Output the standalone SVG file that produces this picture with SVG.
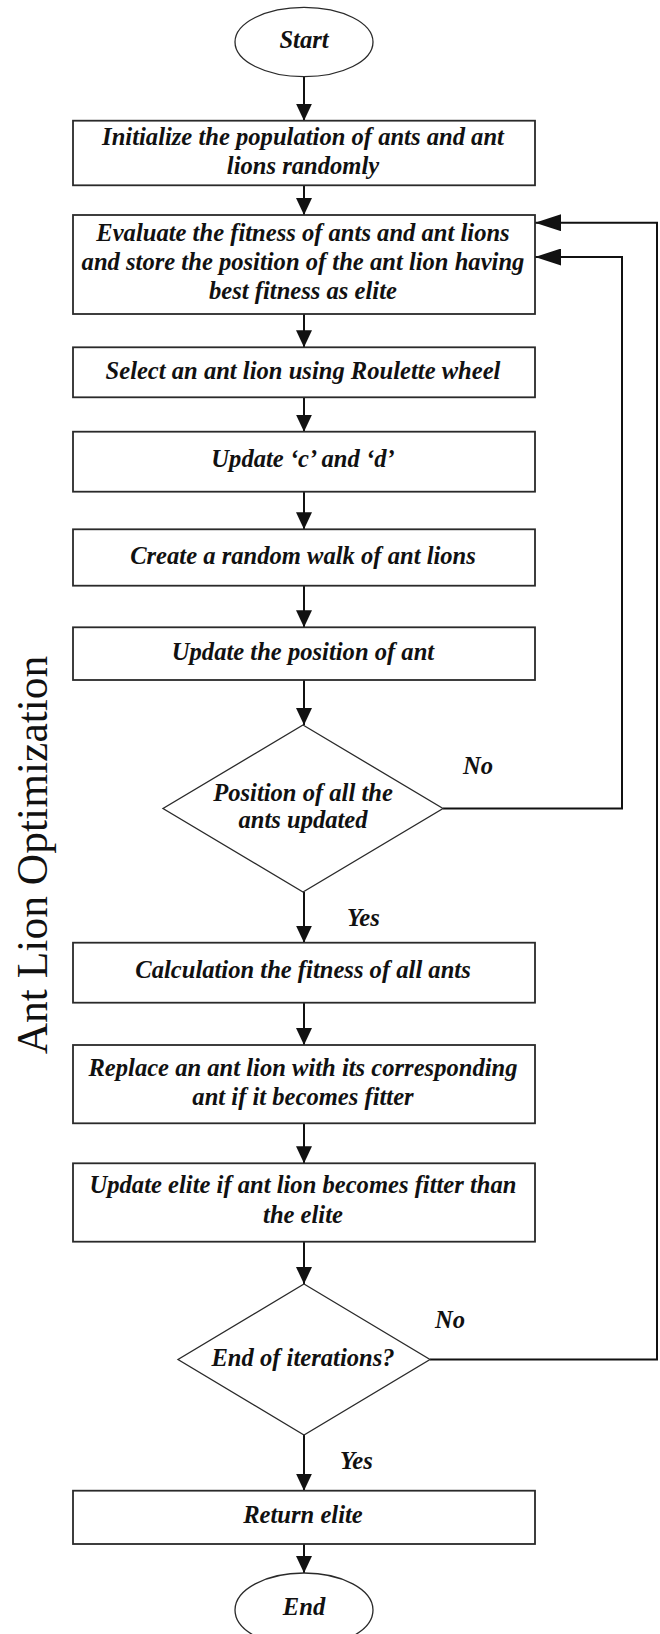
<svg xmlns="http://www.w3.org/2000/svg" width="660" height="1634" viewBox="0 0 660 1634">
<defs>
<style>
.box{fill:#fff;stroke:#2a2a2a;stroke-width:1.8}
.dia{fill:#fff;stroke:#2a2a2a;stroke-width:1.3}
.ell{fill:#fff;stroke:#2a2a2a;stroke-width:1.3}
.t{font-family:"Liberation Serif","Times New Roman",serif;font-weight:bold;font-style:italic;font-size:24.6px;fill:#111;text-anchor:middle}
.lbl{font-family:"Liberation Serif","Times New Roman",serif;font-weight:bold;font-style:italic;font-size:24.6px;fill:#111}
.side{font-family:"Liberation Serif","Times New Roman",serif;font-size:43.5px;fill:#111;text-anchor:middle}
.c{fill:none;stroke:#111;stroke-width:2}
</style>
<marker id="av" viewBox="0 0 17 16" refX="17" refY="8" markerWidth="17" markerHeight="16" orient="auto" markerUnits="userSpaceOnUse"><path d="M0,0 L17,8 L0,16 z" fill="#111"/></marker>
<marker id="ah" viewBox="0 0 26 17" refX="26" refY="8.5" markerWidth="26" markerHeight="17" orient="auto" markerUnits="userSpaceOnUse"><path d="M0,0 L26,8.5 L0,17 z" fill="#111"/></marker>
</defs>
<rect width="660" height="1634" fill="#fff"/>

<text class="side" transform="translate(47,855) rotate(-90)">Ant Lion Optimization</text>

<g id="connectors">
<line class="c" x1="304" y1="76.7" x2="304" y2="120.7" marker-end="url(#av)"/>
<line class="c" x1="304" y1="185.3" x2="304" y2="215" marker-end="url(#av)"/>
<line class="c" x1="304" y1="314" x2="304" y2="347.3" marker-end="url(#av)"/>
<line class="c" x1="304" y1="397.3" x2="304" y2="431.7" marker-end="url(#av)"/>
<line class="c" x1="304" y1="491.7" x2="304" y2="529.3" marker-end="url(#av)"/>
<line class="c" x1="304" y1="585.7" x2="304" y2="627.3" marker-end="url(#av)"/>
<line class="c" x1="304" y1="680" x2="304" y2="725" marker-end="url(#av)"/>
<line class="c" x1="304" y1="892" x2="304" y2="942.7" marker-end="url(#av)"/>
<line class="c" x1="304" y1="1002.7" x2="304" y2="1045" marker-end="url(#av)"/>
<line class="c" x1="304" y1="1123.3" x2="304" y2="1163.3" marker-end="url(#av)"/>
<line class="c" x1="304" y1="1241.7" x2="304" y2="1284" marker-end="url(#av)"/>
<line class="c" x1="304" y1="1435" x2="304" y2="1490.7" marker-end="url(#av)"/>
<line class="c" x1="304" y1="1544" x2="304" y2="1573" marker-end="url(#av)"/>
<polyline class="c" points="443,808.5 622,808.5 622,257 535,257" marker-end="url(#ah)"/>
<polyline class="c" points="430,1359.5 657,1359.5 657,222.7 535,222.7" marker-end="url(#ah)"/>
<text class="lbl" x="463" y="774">No</text>
<text class="lbl" x="347" y="926">Yes</text>
<text class="lbl" x="435" y="1328">No</text>
<text class="lbl" x="340" y="1469">Yes</text>
</g>

<g id="start">
<ellipse class="ell" cx="304" cy="42" rx="69" ry="34.7"/>
<text class="t" x="304" y="48">Start</text>
</g>

<g id="init">
<rect class="box" x="73" y="120.7" width="462" height="64.6"/>
<text class="t" x="303" y="144.5">Initialize the population of ants and ant</text>
<text class="t" x="303" y="173.5">lions randomly</text>
</g>

<g id="evaluate">
<rect class="box" x="73" y="215" width="462" height="99"/>
<text class="t" x="303" y="240.7">Evaluate the fitness of ants and ant lions</text>
<text class="t" x="303" y="270">and store the position of the ant lion having</text>
<text class="t" x="303" y="299.3">best fitness as elite</text>
</g>

<g id="select">
<rect class="box" x="73" y="347.3" width="462" height="50"/>
<text class="t" x="303" y="379.3">Select an ant lion using Roulette wheel</text>
</g>

<g id="update-cd">
<rect class="box" x="73" y="431.7" width="462" height="60"/>
<text class="t" x="303" y="466.7">Update ‘c’ and ‘d’</text>
</g>

<g id="random-walk">
<rect class="box" x="73" y="529.3" width="462" height="56.4"/>
<text class="t" x="303" y="564.3">Create a random walk of ant lions</text>
</g>

<g id="update-pos">
<rect class="box" x="73" y="627.3" width="462" height="52.7"/>
<text class="t" x="303" y="660">Update the position of ant</text>
</g>

<g id="decision-updated">
<polygon class="dia" points="303,725 443,808.5 303,892 163,808.5"/>
<text class="t" x="303" y="800.7">Position of all the</text>
<text class="t" x="303" y="828.3">ants updated</text>
</g>

<g id="calc-fitness">
<rect class="box" x="73" y="942.7" width="462" height="60"/>
<text class="t" x="303" y="977.7">Calculation the fitness of all ants</text>
</g>

<g id="replace">
<rect class="box" x="73" y="1045" width="462" height="78.3"/>
<text class="t" x="303" y="1076">Replace an ant lion with its corresponding</text>
<text class="t" x="303" y="1105">ant if it becomes fitter</text>
</g>

<g id="update-elite">
<rect class="box" x="73" y="1163.3" width="462" height="78.4"/>
<text class="t" x="303" y="1193.3">Update elite if ant lion becomes fitter than</text>
<text class="t" x="303" y="1222.7">the elite</text>
</g>

<g id="decision-end">
<polygon class="dia" points="304,1284 430,1359.5 304,1435 178,1359.5"/>
<text class="t" x="303" y="1365.7">End of iterations?</text>
</g>

<g id="return">
<rect class="box" x="73" y="1490.7" width="462" height="53.3"/>
<text class="t" x="303" y="1522.7">Return elite</text>
</g>

<g id="end">
<ellipse class="ell" cx="304" cy="1610" rx="69" ry="37"/>
<text class="t" x="304" y="1615">End</text>
</g>
</svg>
